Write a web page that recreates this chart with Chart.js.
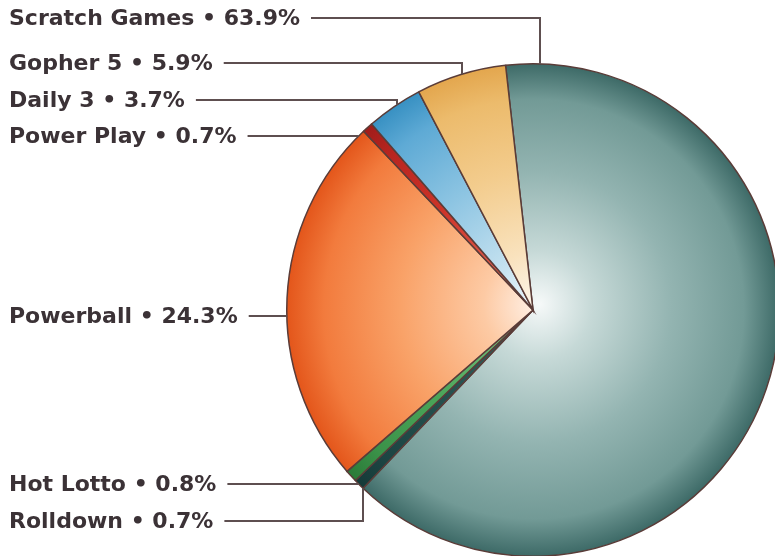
<!DOCTYPE html>
<html>
<head>
<meta charset="utf-8">
<script src="https://cdn.jsdelivr.net/npm/chart.js@4"></script>
<style>
  html, body { margin: 0; padding: 0; background: #fff; overflow: hidden; }
  #wrap { width: 775px; height: 556px; overflow: hidden; position: relative; }
  canvas { position: absolute; left: 0; top: 0; }
</style>
</head>
<body>
<div id="wrap"><canvas id="pie" width="790" height="560"></canvas></div>
<script>
// Slice data, clockwise from the top
const categories = ['Scratch Games', 'Rolldown', 'Hot Lotto', 'Powerball', 'Power Play', 'Daily 3', 'Gopher 5'];
const shares = [63.9, 0.7, 0.8, 24.3, 0.7, 3.7, 5.9];

// Gradient colours per slice, centre -> rim
const sliceColors = [
    ['#f6f9f9', '#c6d9d7', '#93b4b1', '#729a96', '#3c6966'],
    ['#3d6a68', '#2f5c5a', '#244f4d', '#1d4543', '#153a38'],
    ['#a8dcae', '#6cbb76', '#4aa458', '#3b9249', '#2a7a38'],
    ['#fff3ea', '#fdcaa4', '#f9a268', '#f27b3d', '#e3551a'],
    ['#f4a092', '#e05a4a', '#cc3328', '#b82620', '#a01c1a'],
    ['#f0f8fc', '#c2e0ef', '#8cc4e2', '#5eaad5', '#3790c2'],
    ['#fdf6ec', '#f9e2bd', '#f3cc8d', '#ecbb6c', '#e3a64d']
];
const gradStops = [0, 0.22, 0.55, 0.85, 1];

// Label layout: y of the label row, leader style and elbow x
const labelRows = [
    { i: 0, y: 18, type: 'down', elbow: 540 },
    { i: 6, y: 63, type: 'down', elbow: 462 },
    { i: 5, y: 100, type: 'down', elbow: 397 },
    { i: 4, y: 136, type: 'side' },
    { i: 3, y: 316, type: 'side' },
    { i: 2, y: 484, type: 'side' },
    { i: 1, y: 521, type: 'up', elbow: 363 }
];

const textColor = '#3b3236';
const lineColor = '#5e4f50';
const labelFont = 'bold 22px "DejaVu Sans"';

function sliceFill(context) {
    const chart = context.chart;
    const area = chart.chartArea;
    const c = sliceColors[context.dataIndex];
    if (!area) return c[2];
    const cx = (area.left + area.right) / 2;
    const cy = (area.top + area.bottom) / 2;
    const r = Math.min(area.right - area.left, area.bottom - area.top) / 2;
    const g = chart.ctx.createRadialGradient(cx + 6, cy - 6, 0, cx, cy, r);
    gradStops.forEach((s, k) => g.addColorStop(s, c[k]));
    return g;
}

const leaderLabels = {
    id: 'leaderLabels',
    afterDraw(chart) {
        const arc = chart.getDatasetMeta(0).data[0];
        const cx = arc.x, cy = arc.y, r = arc.outerRadius;
        const ctx = chart.ctx;
        ctx.save();
        ctx.font = labelFont;
        ctx.fillStyle = textColor;
        ctx.textBaseline = 'middle';
        ctx.strokeStyle = lineColor;
        ctx.lineWidth = 2;
        labelRows.forEach(row => {
            const text = categories[row.i] + ' \u2022 ' + shares[row.i].toFixed(1) + '%';
            ctx.fillText(text, 9, row.y + 1);
            const x0 = 9 + ctx.measureText(text).width + 11;
            ctx.beginPath();
            ctx.moveTo(x0, row.y);
            if (row.type === 'side') {
                const dy = row.y - cy;
                const xe = cx - Math.sqrt(Math.max(0, r * r - dy * dy));
                ctx.lineTo(xe, row.y);
            } else {
                const dx = row.elbow - cx;
                const h = Math.sqrt(Math.max(0, r * r - dx * dx));
                const ye = row.type === 'down' ? cy - h : cy + h;
                ctx.lineTo(row.elbow, row.y);
                ctx.lineTo(row.elbow, ye);
            }
            ctx.stroke();
        });
        ctx.restore();
    }
};

new Chart(document.getElementById('pie'), {
    type: 'pie',
    data: {
        labels: categories,
        datasets: [{
            data: shares,
            backgroundColor: sliceFill,
            borderColor: '#5a3c38',
            borderWidth: 1.5,
            borderJoinStyle: 'miter'
        }]
    },
    options: {
        responsive: false,
        animation: false,
        devicePixelRatio: 1,
        rotation: -6.4,
        layout: { padding: { left: 286, top: 63, right: 10, bottom: 3 } },
        plugins: {
            legend: { display: false },
            tooltip: { enabled: false }
        }
    },
    plugins: [leaderLabels]
});
</script>
</body>
</html>
